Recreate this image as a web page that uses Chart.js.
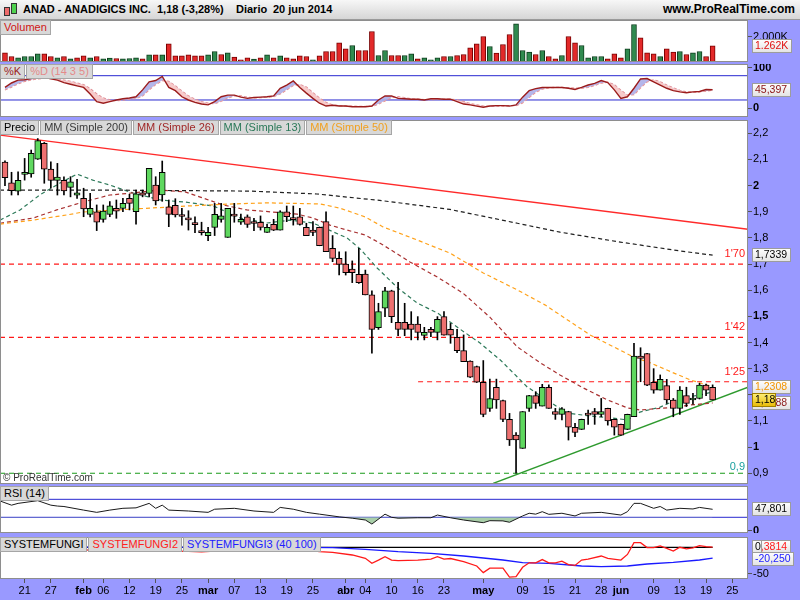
<!DOCTYPE html>
<html>
<head>
<meta charset="utf-8">
<script src="https://cdn.jsdelivr.net/npm/chart.js@4.4.0/dist/chart.umd.min.js"></script>
<style>
  body { margin: 0; width: 800px; height: 600px; background: #9999ff; position: relative; overflow: hidden;
         font-family: "Liberation Sans", Arial, sans-serif; }
  canvas { position: absolute; left: 0; }
  #hdr { position: absolute; left: 0; top: 0; width: 800px; height: 19px; border-bottom: 1px solid #9a9a9a;
         background: linear-gradient(#f7f7f7, #d6d6d6); font-weight: bold; font-size: 11px; color: #000; }
  #hdr span { position: absolute; top: 3px; white-space: nowrap; }
  #hdr .site { right: 5px; top: 2px; font-size: 12px; }
  .ico { position: absolute; border: 1px solid #333; }
  .lg { position: absolute; left: 0; display: flex; gap: 1px; }
  .lg span { display: block; height: 13px; line-height: 13px; font-size: 11px; padding: 0 3px;
             background: #d8d8d8; border: 1px solid #a6a6a6; white-space: nowrap; }
  #copy { position: absolute; left: 3px; top: 472px; font-size: 10px; color: #333; }
</style>
</head>
<body>
<div id="hdr">
  <div class="ico" style="left:4px;top:7px;width:4px;height:7px;background:#ee6b6b"></div>
  <div class="ico" style="left:11px;top:3px;width:4px;height:9px;background:#4fd24f"></div>
  <span style="left:23px">ANAD - ANADIGICS INC.</span>
  <span style="left:157px">1,18 (-3,28%)</span>
  <span style="left:236px">Diario</span>
  <span style="left:273px">20 jun 2014</span>
  <span class="site">www.ProRealTime.com</span>
</div>

<canvas id="cVol" width="800" height="42" style="top:20px"></canvas>
<canvas id="cSto" width="800" height="53" style="top:64px"></canvas>
<canvas id="cPx" width="800" height="364" style="top:120px"></canvas>
<canvas id="cRsi" width="800" height="47" style="top:486px"></canvas>
<canvas id="cFun" width="800" height="63" style="top:537px"></canvas>

<div class="lg" style="top:20px"><span style="color:#d01414">Volumen</span></div>
<div class="lg" style="top:64px"><span style="color:#9b1c1c">%K</span><span style="color:#e48a8a">%D (14 3 5)</span></div>
<div class="lg" style="top:120px">
  <span>Precio</span><span style="color:#3a3a3a">MM (Simple 200)</span><span style="color:#a02828">MM (Simple 26)</span>
  <span style="color:#2a7858">MM (Simple 13)</span><span style="color:#f0a020">MM (Simple 50)</span>
</div>
<div class="lg" style="top:486px"><span>RSI (14)</span></div>
<div class="lg" style="top:537px">
  <span>SYSTEMFUNGI</span><span style="color:#ff2020">SYSTEMFUNGI2</span><span style="color:#2020ff">SYSTEMFUNGI3 (40 100)</span>
</div>
<div id="copy">© ProRealTime.com</div>

<script>
// ANAD daily, 15 jan 2014 -> 20 jun 2014 (one entry per trading day)
const opens = [2.09,2.011,1.979,2.043,2.045,2.101,2.162,2.063,2.02,2.02,
  1.993,1.963,1.951,1.89,1.90,1.871,1.89,1.913,1.913,1.951,
  1.90,1.972,1.97,2.002,1.964,1.919,1.925,1.886,1.873,1.855,
  1.823,1.809,1.84,1.871,1.802,1.885,1.86,1.881,1.857,1.86,
  1.821,1.852,1.83,1.90,1.872,1.881,1.84,1.83,1.84,1.862,
  1.76,1.722,1.70,1.681,1.661,1.662,1.582,1.457,1.531,1.598,
  1.477,1.477,1.47,1.47,1.427,1.45,1.439,1.499,1.45,1.42,
  1.369,1.329,1.308,1.248,1.148,1.229,1.178,1.106,1.046,0.995,
  1.148,1.197,1.157,1.229,1.136,1.125,1.136,1.076,1.068,1.124,
  1.136,1.125,1.148,1.106,1.087,1.068,1.116,1.348,1.358,1.248,
  1.218,1.235,1.18,1.148,1.197,1.18,1.186,1.237,1.229];
const highs = [2.095,2.051,2.053,2.104,2.136,2.18,2.165,2.091,2.085,2.034,
  2.034,2.024,1.99,1.97,1.926,1.926,1.939,1.945,1.951,1.967,
  1.983,1.983,2.066,2.034,2.094,1.945,1.95,1.913,1.904,1.881,
  1.86,1.84,1.932,1.932,1.913,1.932,1.891,1.888,1.875,1.884,
  1.852,1.871,1.904,1.922,1.922,1.913,1.856,1.862,1.842,1.90,
  1.809,1.747,1.747,1.712,1.76,1.677,1.598,1.55,1.611,1.60,
  1.63,1.55,1.518,1.499,1.458,1.458,1.499,1.518,1.473,1.45,
  1.429,1.33,1.31,1.331,1.26,1.26,1.18,1.129,1.056,1.136,
  1.198,1.212,1.24,1.238,1.148,1.151,1.137,1.091,1.107,1.142,
  1.148,1.186,1.149,1.107,1.088,1.126,1.397,1.38,1.359,1.30,
  1.276,1.259,1.186,1.231,1.229,1.206,1.244,1.241,1.238];
const lows = [2.00,1.964,1.964,2.021,2.032,2.10,2.009,1.99,1.964,1.964,
  1.957,1.951,1.881,1.88,1.828,1.86,1.881,1.875,1.90,1.907,
  1.853,1.957,1.957,1.926,1.94,1.843,1.88,1.849,1.83,1.82,
  1.811,1.789,1.809,1.86,1.802,1.86,1.852,1.84,1.828,1.83,
  1.821,1.828,1.83,1.862,1.849,1.849,1.809,1.809,1.77,1.747,
  1.709,1.658,1.658,1.629,1.626,1.582,1.359,1.45,1.499,1.476,
  1.426,1.426,1.41,1.41,1.41,1.422,1.41,1.428,1.397,1.361,
  1.327,1.266,1.247,1.116,1.136,1.148,1.097,1.006,0.90,0.995,
  1.136,1.148,1.157,1.148,1.106,1.104,1.027,1.04,1.067,1.087,
  1.087,1.116,1.084,1.046,1.045,1.067,1.116,1.25,1.235,1.206,
  1.218,1.167,1.116,1.125,1.155,1.164,1.184,1.197,1.18];
const closes = [2.03,1.981,2.02,2.051,2.123,2.172,2.063,2.02,2.033,1.98,
  2.014,1.972,1.911,1.913,1.86,1.903,1.923,1.902,1.932,1.932,
  1.969,1.963,2.066,1.941,2.051,1.89,1.888,1.882,1.869,1.851,
  1.820,1.821,1.89,1.884,1.913,1.883,1.871,1.852,1.855,1.84,
  1.84,1.83,1.90,1.881,1.870,1.852,1.809,1.821,1.77,1.747,
  1.722,1.699,1.667,1.667,1.629,1.582,1.45,1.518,1.598,1.499,
  1.45,1.45,1.45,1.439,1.439,1.439,1.489,1.428,1.428,1.369,
  1.327,1.267,1.248,1.125,1.186,1.18,1.106,1.027,1.027,1.136,
  1.197,1.167,1.229,1.148,1.125,1.146,1.076,1.056,1.106,1.122,
  1.125,1.136,1.10,1.076,1.046,1.125,1.348,1.339,1.237,1.218,
  1.259,1.18,1.148,1.218,1.167,1.186,1.237,1.218,1.18];
// volume in thousands of shares
const volumes = [719,431,327,431,431,641,641,431,327,431,
  248,327,484,327,431,248,301,275,248,275,
  327,248,562,562,562,1425,484,484,562,484,
  484,562,824,588,719,379,170,327,222,327,
  562,327,484,327,248,484,431,170,484,824,
  824,1503,1033,1294,902,902,2392,510,902,510,
  510,510,641,248,327,170,327,431,431,510,
  588,1111,1425,2000,1216,693,1373,2157,2993,902,
  771,588,902,431,248,510,2000,1503,1294,327,
  431,431,248,641,327,1033,2941,1895,719,641,
  431,1033,771,824,588,719,824,431,1262];
const stochK = [51,62,69,70,73,78,76,72,69,63,
  59,55,51,35,16,12,16,20,23,25,
  28,45,65,68,78,51,43,28,20,14,
  10,8,16,28,32,32,27,24,26,27,
  28,30,49,57,67,51,37,24,12,5,
  7,5,5,3.5,3.5,3.5,5,20,30,30,
  24,23,22,22,20,23,23,22,22,16,
  10,8,5,2,5,6,6,5,8,27,
  43,48,51,51,51,51,49,46,51,57,
  61,68,63,45,24,28,49,72,73,65,
  57,49,43,40,38,40,41,46,45.397];
const stochD = [45,52,60,66,70,72,74,74,72,69,
  66,62,58,48,35,25,20,18,20,22,
  24,30,45,58,68,66,55,42,30,22,
  16,12,11,17,25,30,30,27,25,26,
  27,28,35,45,56,58,52,38,25,14,
  8,6,5,5,4,4,4,10,18,26,
  28,26,23,22,21,21,22,22,22,20,
  16,11,8,5,4,4,5,6,6,13,
  26,39,47,50,51,51,50,49,49,51,
  56,62,64,58,44,32,33,50,65,70,
  65,57,50,44,40,39,40,42,44];

// moving averages (day index -> value)
const ma200Days = [-0.76,14.5,26.7,37.4,47.6,57.7,67.9,78.2,84.7,93.9,103.1,108];
const ma200 = [1.983,1.983,1.981,1.979,1.968,1.942,1.909,1.856,1.822,1.784,1.75,1.7339];
const ma26Days = [-0.76,4.3,7.9,11.9,16,19.5,23.7,27.5,29.8,33.3,36.9,40.9,44.6,47,49.6,52.2,55,57.7,
  61.8,66,69.9,74,78.2,81.7,84.7,88.2,91.9,95,96.9,101.1,104.6,108];
const ma26 = [1.856,1.876,1.907,1.937,1.964,1.972,1.983,1.976,1.956,1.926,1.907,1.899,1.891,1.876,1.849,1.83,1.811,1.773,
  1.708,1.65,1.589,1.497,1.383,1.322,1.276,1.227,1.181,1.15,1.142,1.15,1.161,1.1688];
const ma13Days = [-0.76,2.3,5.3,8.4,11,13.4,16,19.5,23.7,27.5,31.8,35.9,40,43.5,47,50.1,52.2,54.2,56.8,
  59.8,62.9,66,69,72.5,75.6,78.2,79.7,82,85.8,89.3,92.8,95,96.9,100,103.1,106.1,108];
const ma13 = [1.868,1.907,1.964,2.01,2.044,2.021,2.002,1.972,1.945,1.937,1.922,1.876,1.857,1.868,1.857,1.823,1.8,1.758,1.685,
  1.612,1.551,1.513,1.459,1.398,1.333,1.268,1.23,1.192,1.13,1.119,1.111,1.104,1.134,1.153,1.188,1.199,1.211];
const ma50Days = [-0.76,4.3,9.5,11.9,17.1,22.1,27.8,34.8,40,48.1,51.1,55,57.7,62.9,67.9,73,78.2,82.4,89.3,95.9,98.5,102,104.6,108];
const ma50 = [1.853,1.868,1.888,1.899,1.907,1.914,1.922,1.93,1.934,1.93,1.914,1.88,1.842,1.792,1.742,1.666,1.601,1.544,1.429,1.345,1.322,1.284,1.257,1.2308];

// drawn trend lines and levels
const resistDays = [-0.76, 113.4], resist = [2.193, 1.833];
const supportDays = [74.5, 113.4], support = [0.861, 1.229];
const levels = [1.70, 1.42, 1.25, 0.90];
const levelFrom = [-0.76, -0.76, 63.05, -0.76];
const levelText = ["1'70", "1'42", "1'25", "0,9"];

// RSI (14)
const rsiDays = [-0.7,1,2,5,7,8,9,12,14,16,18,20,22,23,24,25,28,31,32,35,38,41,42,44,46,48,51,53,55,56,
  58,59,60,63,65,66,68,70,73,74,76,77,79,80,81,82,83,85,87,88,91,94,95,96,97,99,100,101,103,105,106,108];
const rsiVals = [66,57,61,67,57,55,54,46,41,46,50,51,61,50,57,46,44,41,48,50,44,41,52,48,41,37,31,28,24,15,
  37,30,28,29,29,35,29,24,18,22.5,22,19,33,39,37,42.5,36.6,39,33,39,41,35,42.5,61,61,50,54,46,50,48.5,52,47.801];

// SYSTEMFUNGI panel
const fungiDays = [-0.7, 108], fungi = [0, 0];
const fungi2Days = [-0.7,10,20,28,30,32,38,43,45,48,50,53,55,56,57,58,59,60,63,65,66,67,68,70,72,73,74,76,77,78,
  79,80,81,82,83,84,85,86,87,88,89,91,92,94,95,96,97,98,99,100,101,102,103,104,105,106,107,108];
const fungi2 = [-4,-5,-6,-7.5,-8.5,-7,-4,-2,-3.7,-8,-9.4,-14.4,-20.6,-30,-24,-17.6,-24,-25,-24,-22,-17.6,-22,-21,-27,-35,-47.5,-39,-39,-56,-55,
  -37.5,-29,-29,-23,-29,-29,-26,-32.5,-34,-24,-22,-16.3,-20.6,-24,-13.4,8.7,8.7,-0.6,-0.6,2.5,-1.9,-6.9,0,-3.1,-1,3.1,1.2,0.3814];
const fungi3Days = [-0.7,20,43,50,55,60,65,70,76,79,83,88,91,95,98,102,106,108];
const fungi3 = [0.5,0.3,0,-0.6,-3.7,-8.2,-11.3,-16.3,-23.8,-28.8,-30,-35,-36.3,-35,-31.3,-28.1,-23.8,-20.25];

// axis ticks
const dayTicks = [3,7,12,15,19,23,27,31,35,39,43,47,52,55,59,63,67,73,79,83,87,91,94,99,103,107,111];
const dayLabels = ['21','27','feb','06','12','19','25','mar','07','13','19','25','abr','04','10','16','23','may','09','15','21','28','jun','09','13','19','25'];
const monthNames = ['feb','mar','abr','may','jun'];
const priceTicks = [0.9,1.0,1.1,1.2,1.3,1.4,1.5,1.6,1.7,1.8,1.9,2.0,2.1,2.2];
const priceBold = [1.0,1.5,2.0];

const FONT = '"Liberation Sans", Arial, sans-serif';
const X_MIN = -0.76, X_MAX = 113.4;
const UP = '#5fd85f', DOWN = '#ee7070';

Chart.defaults.font.family = FONT;
Chart.defaults.font.size = 11;
Chart.defaults.color = '#000';

// white plot area with a grey frame
Chart.register({
  id: 'panelFrame',
  beforeDraw(chart) {
    const a = chart.chartArea, c = chart.ctx;
    c.save();
    c.fillStyle = '#ffffff';
    c.fillRect(a.left, a.top, a.right - a.left, a.bottom - a.top);
    c.restore();
  },
  afterDraw(chart) {
    const a = chart.chartArea, c = chart.ctx;
    c.save();
    c.strokeStyle = '#8e8e8e';
    c.lineWidth = 1;
    c.strokeRect(a.left + 0.5, a.top + 0.5, a.right - a.left - 1, a.bottom - a.top - 1);
    c.restore();
  }
});

// value boxes on the right axis
function badges(list) {
  return {
    id: 'badges',
    afterDraw(chart) {
      const c = chart.ctx, ys = chart.scales.y;
      c.save();
      c.font = '10.5px ' + FONT;
      list.forEach(b => {
        const py = Math.round(ys.getPixelForValue(b.value)) + (b.dy || 0);
        const w = b.w || Math.ceil(c.measureText(b.text).width) + 6;
        const top = py - 7, x0 = 752;
        const g = c.createLinearGradient(0, top, 0, top + 14);
        g.addColorStop(0, b.bg1 || '#ffffff');
        g.addColorStop(1, b.bg2 || '#e2e2e2');
        c.fillStyle = g;
        c.fillRect(x0, top, w, 14);
        c.strokeStyle = b.edge || '#9c9c9c';
        c.strokeRect(x0 + 0.5, top + 0.5, w - 1, 13);
        c.fillStyle = b.color;
        c.textAlign = 'left';
        c.textBaseline = 'middle';
        c.fillText(b.text, x0 + 3, py + 0.5);
      });
      c.restore();
    }
  };
}

const pts = (xs, ys) => xs.map((x, i) => ({ x: x, y: ys[i] }));
const days = opens.map((_, i) => i);
const isUp = i => closes[i] >= opens[i];
// volume bars are coloured on the close-to-close change
const volUp = i => i === 0 ? isUp(0) : closes[i] >= closes[i - 1];

function line(xs, ys, color, width, dash, extra) {
  return Object.assign({
    type: 'line', data: pts(xs, ys), borderColor: color, borderWidth: width,
    borderDash: dash || [], pointRadius: 0, fill: false, tension: 0
  }, extra || {});
}

// scales must not add label padding: the panels are laid out to the pixel
function noPad(s) {
  s.paddingTop = 0; s.paddingBottom = 0; s.paddingLeft = 0; s.paddingRight = 0;
}

function xScale(show) {
  return {
    type: 'linear', min: X_MIN, max: X_MAX, offset: false, display: show,
    grid: { display: show, drawOnChartArea: false, drawTicks: true, tickLength: 4, color: '#555', offset: false },
    border: { display: false },
    afterBuildTicks: s => { s.ticks = dayTicks.map(v => ({ value: v })); },
    afterFit: s => { noPad(s); if (show) s.height = 21; },
    ticks: {
      autoSkip: false, maxRotation: 0, padding: 1, color: '#000',
      font: c => ({ family: FONT, size: 11,
        weight: c.tick && monthNames.includes(dayLabels[dayTicks.indexOf(c.tick.value)]) ? 'bold' : 'normal' }),
      callback: v => dayLabels[dayTicks.indexOf(v)]
    }
  };
}

function yScale(min, max, tickVals, fmt, boldVals) {
  return {
    position: 'right', min: min, max: max,
    grid: { drawOnChartArea: false, drawTicks: true, tickLength: 4, color: '#555' },
    border: { display: false },
    afterBuildTicks: s => { s.ticks = tickVals.map(v => ({ value: v })); },
    afterFit: s => { noPad(s); s.width = 52; },
    ticks: {
      padding: 1, color: '#000',
      font: c => ({ family: FONT, size: 11,
        weight: c.tick && boldVals.some(b => Math.abs(b - c.tick.value) < 1e-6) ? 'bold' : 'normal' }),
      callback: fmt
    }
  };
}

function options(scales) {
  return {
    responsive: false, animation: false, events: [],
    layout: { padding: 0, autoPadding: false },
    plugins: { legend: { display: false }, tooltip: { enabled: false } },
    scales: scales
  };
}

// ---- volume
new Chart(document.getElementById('cVol'), {
  type: 'bar',
  data: { datasets: [{
    data: pts(days, volumes),
    backgroundColor: days.map(i => volUp(i) ? '#2f8a4f' : '#e32929'),
    borderColor: days.map(i => volUp(i) ? '#0e3d1d' : '#780000'),
    borderWidth: 1, borderSkipped: false, barThickness: 5, grouped: false
  }] },
  options: options({ x: xScale(false), y: yScale(0, 3294, [2000], () => '2.000K', []) }),
  plugins: [badges([{ value: 1262, text: '1.262K', color: '#e01010' }])]
});

// ---- stochastic
new Chart(document.getElementById('cSto'), {
  type: 'line',
  data: { datasets: [
    line(days, stochK, '#9b1c1c', 1.4, [], { fill: { target: 1, above: 'rgba(172,174,232,0.9)', below: 'rgba(246,196,196,0.9)' }, order: 0 }),
    line(days, stochD, '#e88c8c', 1.3, [3, 2], { order: 1 }),
    line([X_MIN, X_MAX], [80, 80], '#2828d0', 1, [], { order: 2 }),
    line([X_MIN, X_MAX], [20, 20], '#2828d0', 1, [], { order: 2 })
  ] },
  options: options({ x: xScale(false), y: yScale(-22, 108.9, [0, 100], v => String(v), [0, 100]) }),
  plugins: [badges([{ value: 45.397, text: '45,397', color: '#8b1010' }])]
});

// ---- price
const priceSets = [
  line(ma200Days, ma200, '#202020', 1.2, [4, 3], { order: 3 }),
  line(ma50Days, ma50, '#ffa21a', 1.2, [4, 3], { order: 3 }),
  line(ma26Days, ma26, '#a83030', 1.2, [4, 3], { order: 3 }),
  line(ma13Days, ma13, '#2e7a5a', 1.2, [4, 3], { order: 3 }),
  line(resistDays, resist, '#ff2a2a', 1.3, [], { order: 3 }),
  line(supportDays, support, '#2e9a2e', 1.3, [], { order: 3 })
];
levels.forEach((v, k) => {
  priceSets.push(line([levelFrom[k], X_MAX], [v, v], k === 3 ? '#1a9a1a' : '#ff1a1a', 1.2, [5, 4], { order: 3 }));
});
priceSets.push({
  type: 'bar', data: days.map(i => ({ x: i, y: [lows[i], highs[i]] })),
  backgroundColor: '#000', borderWidth: 0, barThickness: 1, grouped: false, order: 1
});
priceSets.push({
  type: 'bar', data: days.map(i => ({ x: i, y: [opens[i], closes[i]] })),
  backgroundColor: days.map(i => isUp(i) ? UP : DOWN),
  borderColor: '#000', borderWidth: 1, borderSkipped: false, barThickness: 6, minBarLength: 2,
  grouped: false, order: 0
});

new Chart(document.getElementById('cPx'), {
  type: 'bar',
  data: { datasets: priceSets },
  options: options({
    x: xScale(false),
    y: yScale(0.8589, 2.2509, priceTicks, v => String(Math.round(v * 10) / 10).replace('.', ','), priceBold)
  }),
  plugins: [
    {
      id: 'levelText',
      afterDatasetsDraw(chart) {
        const c = chart.ctx, ys = chart.scales.y, right = chart.chartArea.right;
        c.save();
        c.font = '11px ' + FONT;
        c.textAlign = 'right';
        c.textBaseline = 'middle';
        levels.forEach((v, k) => {
          c.fillStyle = k === 3 ? '#1aa0a0' : '#ff1a1a';
          c.fillText(levelText[k], right - 3, ys.getPixelForValue(v) - (k === 3 ? 6 : 10));
        });
        c.restore();
      }
    },
    badges([
      { value: 1.7339, text: '1,7339', color: '#000' },
      { value: 1.2308, text: '1,2308', color: '#f29400' },
      { value: 1.1688, text: '1,1688', color: '#8b1a1a' },
      { value: 1.18, text: '1,18', color: '#000', bg1: '#fff27a', bg2: '#e8b800', edge: '#a08000', w: 24 }
    ])
  ]
});

// ---- RSI
new Chart(document.getElementById('cRsi'), {
  type: 'line',
  data: { datasets: [
    line(rsiDays, rsiVals, '#1a1a1a', 1, [], { fill: { target: { value: 30 }, above: 'rgba(0,0,0,0)', below: '#a9cfa9' }, order: 0 }),
    line([X_MIN, X_MAX], [70, 70], '#2828d0', 1, [], { order: 1 }),
    line([X_MIN, X_MAX], [30, 30], '#2828d0', 1, [], { order: 1 })
  ] },
  options: options({ x: xScale(false), y: yScale(-4.9, 99.6, [0], v => String(v), [0]) }),
  plugins: [badges([{ value: 47.801, text: '47,801', color: '#000' }])]
});

// ---- SYSTEMFUNGI + date axis
new Chart(document.getElementById('cFun'), {
  type: 'line',
  data: { datasets: [
    line(fungiDays, fungi, '#000000', 1.2, [], { order: 2 }),
    line(fungi3Days, fungi3, '#1a1aff', 1.3, [], { order: 1 }),
    line(fungi2Days, fungi2, '#ff1a1a', 1.3, [], { order: 0 })
  ] },
  options: options({ x: xScale(true), y: yScale(-59.4, 19.3, [-50], v => String(v), []) }),
  plugins: [badges([
    { value: 0.3814, text: '0,3814', color: '#ff1a1a' },
    { value: 0, text: '0', color: '#000', w: 10 },
    { value: -20.25, text: '-20,250', color: '#1a1aff', dy: 1 }
  ])]
});
</script>
</body>
</html>
